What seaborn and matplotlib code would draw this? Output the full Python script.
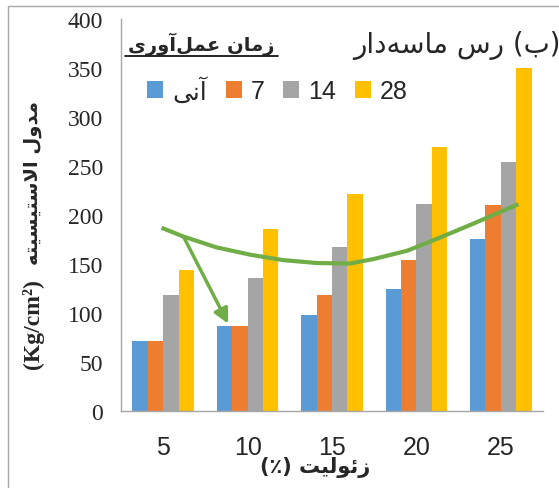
import matplotlib
matplotlib.use("Agg")
import matplotlib.pyplot as plt
import seaborn as sns
import pandas as pd
from matplotlib.patches import Rectangle
from matplotlib.lines import Line2D

# data
zeolite = ["5", "10", "15", "20", "25"]
curing = ["آنی", "7", "14", "28"]
e_instant = [71, 87, 98, 125, 176]
e_7 = [71, 87, 118, 154, 210]
e_14 = [118, 136, 167, 211, 254]
e_28 = [144, 186, 221, 269, 350]
yticks = [0, 50, 100, 150, 200, 250, 300, 350, 400]

# hand drawn green trend curve and arrow (category position, value)
trend_x = [-0.02, 0.24, 0.63, 1.03, 1.42, 1.82, 2.21, 2.49, 2.89, 3.28, 3.67, 4.07, 4.21]
trend_y = [187, 178, 167, 159.5, 154, 151, 150.5, 155, 163.5, 177, 191, 206, 211]
arrow_from = (0.24, 178)
arrow_to = (0.77, 89)

colors = ["#5B9BD5", "#ED7D31", "#A5A5A5", "#FFC000"]
green = "#70AD47"

# simple arabic/persian shaping (matplotlib has no text shaping)
FORMS = {
    'ا': ('\uFE8D', '\uFE8E', None, None),
    'آ': ('\uFE81', '\uFE82', None, None),
    'ب': ('\uFE8F', '\uFE90', '\uFE91', '\uFE92'),
    'ت': ('\uFE95', '\uFE96', '\uFE97', '\uFE98'),
    'د': ('\uFEA9', '\uFEAA', None, None),
    'ر': ('\uFEAD', '\uFEAE', None, None),
    'ز': ('\uFEAF', '\uFEB0', None, None),
    'س': ('\uFEB1', '\uFEB2', '\uFEB3', '\uFEB4'),
    'ع': ('\uFEC9', '\uFECA', '\uFECB', '\uFECC'),
    'ل': ('\uFEDD', '\uFEDE', '\uFEDF', '\uFEE0'),
    'م': ('\uFEE1', '\uFEE2', '\uFEE3', '\uFEE4'),
    'ن': ('\uFEE5', '\uFEE6', '\uFEE7', '\uFEE8'),
    'ه': ('\uFEE9', '\uFEEA', '\uFEEB', '\uFEEC'),
    'و': ('\uFEED', '\uFEEE', None, None),
    'ی': ('\uFBFC', '\uFBFD', '\uFBFE', '\uFBFF'),
    'ئ': ('\uFE89', '\uFE8A', '\uFE8B', '\uFE8C'),
}
LAMALEF = {'ا': ('\uFEFB', '\uFEFC'), 'آ': ('\uFEF5', '\uFEF6')}


def joins_next(c):
    return c in FORMS and FORMS[c][2] is not None


def shape(word):
    if not any(c in FORMS for c in word):
        return word
    out = []
    i = 0
    n = len(word)
    while i < n:
        c = word[i]
        if c not in FORMS:
            if c != '\u200c':
                out.append(c)
            i += 1
            continue
        prev = word[i - 1] if i > 0 else None
        nxt = word[i + 1] if i + 1 < n else None
        jp = prev is not None and joins_next(prev)
        if c == 'ل' and nxt in LAMALEF:
            out.append(LAMALEF[nxt][1 if jp else 0])
            i += 2
            continue
        jn = joins_next(c) and nxt in FORMS
        iso, fin, ini, med = FORMS[c]
        if jp and jn:
            out.append(med)
        elif jp:
            out.append(fin)
        elif jn:
            out.append(ini)
        else:
            out.append(iso)
        i += 1
    return ''.join(reversed(out))


curing_vis = [shape(c) for c in curing]
title = shape("ماسه\u200cدار") + " " + shape("رس") + " (" + shape("ب") + ")"
subtitle = shape("عمل\u200cآوری") + " " + shape("زمان")
ylab_fa = shape("الاستیسیته") + " " + shape("مدول")
xlab = "(٪) " + shape("زئولیت")

df = pd.DataFrame({
    "zeolite": zeolite * 4,
    "curing": [c for c in curing_vis for _ in zeolite],
    "value": e_instant + e_7 + e_14 + e_28,
})

sns.set_style("white")
plt.rcParams['font.family'] = ['Liberation Sans', 'DejaVu Sans']

fig = plt.figure(figsize=(5.59, 4.89), dpi=100)
ax = fig.add_axes([121 / 559, 1 - 412 / 489, 422 / 559, 392 / 489])

sns.barplot(data=df, x="zeolite", y="value", hue="curing", palette=colors,
            width=0.73, saturation=1, linewidth=0, ax=ax)

ax.plot(trend_x, trend_y, color=green, lw=3, solid_capstyle='butt',
        solid_joinstyle='round', zorder=5)
ax.annotate("", xy=arrow_to, xytext=arrow_from,
            arrowprops=dict(arrowstyle='-|>', color=green, lw=2.5,
                            mutation_scale=22, shrinkA=0, shrinkB=0), zorder=6)

ax.set_xlim(-0.5, 4.5)
ax.set_ylim(0, 400)
ax.set_yticks(yticks)
ax.set_xlabel("")
ax.set_ylabel("")
ax.tick_params(length=0)
ax.tick_params(axis='y', pad=13)
ax.tick_params(axis='x', pad=17)
for lab in ax.get_yticklabels():
    lab.set_fontfamily('Liberation Serif')
    lab.set_fontsize(17)
for lab in ax.get_xticklabels():
    lab.set_fontsize(18)
for s in ['top', 'right']:
    ax.spines[s].set_visible(False)
for s in ['left', 'bottom']:
    ax.spines[s].set_color('#A6A6A6')
    ax.spines[s].set_linewidth(1)

ax.legend(ncol=4, loc='center left', bbox_to_anchor=(147 / 559, 1 - 91 / 489),
          bbox_transform=fig.transFigure, frameon=False,
          prop={'family': ['Liberation Sans', 'DejaVu Sans'], 'size': 18},
          handlelength=0.65, handleheight=0.65, handletextpad=0.35,
          columnspacing=0.75, borderpad=0, borderaxespad=0)

fig.text(561 / 559, 1 - 46 / 489, title, ha='right', va='center',
         fontsize=20, family='DejaVu Sans')
fig.text(201 / 559, 1 - 44 / 489, subtitle, ha='center', va='center',
         fontsize=14, fontweight='bold', family='DejaVu Sans')
fig.add_artist(Line2D([125 / 559, 278 / 559], [1 - 57 / 489, 1 - 57 / 489],
                      color='black', lw=1.2))
fig.text(33 / 559, 1 - 183 / 489, ylab_fa, ha='center', va='center', rotation=90,
         fontsize=14, fontweight='bold', family='DejaVu Sans')
fig.text(33 / 559, 1 - 324 / 489, "(Kg/cm\u00b2)", ha='center', va='center',
         rotation=90, fontsize=17, fontweight='bold', family='Liberation Serif')
fig.text(315 / 559, 1 - 468 / 489, xlab, ha='center', va='center',
         fontsize=15, fontweight='bold', family='DejaVu Sans')

fig.add_artist(Rectangle((8 / 559, -0.1), 1.0, 1.1 - 7 / 489, fill=False,
                         edgecolor='#A6A6A6', lw=1, transform=fig.transFigure))

fig.savefig("out.png", dpi=100)
